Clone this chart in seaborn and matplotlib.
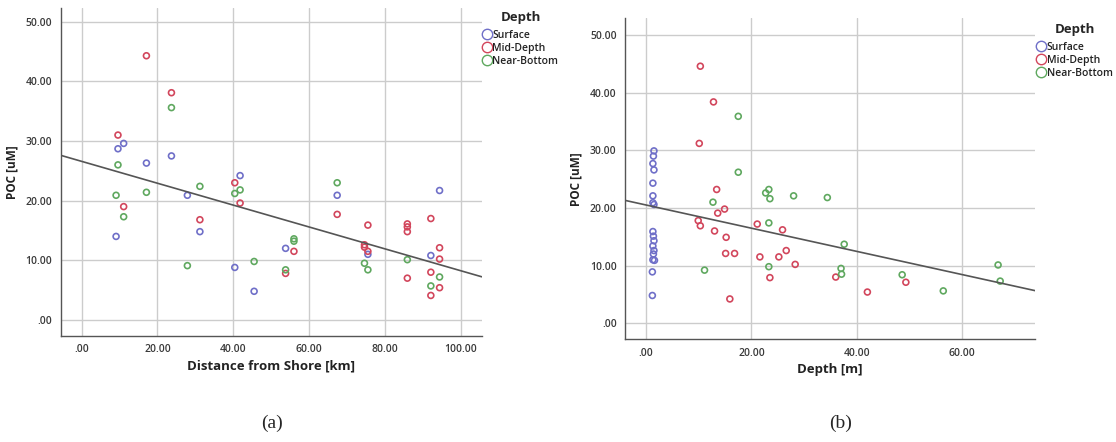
import numpy as np
import pandas as pd
import matplotlib
matplotlib.use("Agg")
import matplotlib.pyplot as plt
import seaborn as sns
from matplotlib.lines import Line2D

# ---- data ----
depth_groups = ["Surface", "Mid-Depth", "Near-Bottom"]
group_colors = ["#6f6fc8", "#d2465c", "#5fa85f"]

# panel (a): distance from shore [km] vs POC [uM]
a_surface_x = [9.6, 11.1, 17.1, 23.7, 41.8, 27.9, 9.1, 31.2, 40.4, 45.5, 53.8, 67.4, 94.4, 75.5, 92.1]
a_surface_y = [28.7, 29.6, 26.3, 27.5, 24.2, 20.9, 14.0, 14.8, 8.8, 4.8, 12.0, 20.9, 21.7, 11.0, 10.8]
a_mid_x = [17.1, 23.7, 9.6, 40.4, 11.1, 31.2, 41.8, 56.0, 53.8, 67.4, 75.5, 74.6, 74.6, 75.5,
           85.9, 85.9, 85.9, 85.9, 92.1, 92.1, 92.1, 94.4, 94.4, 94.4]
a_mid_y = [44.3, 38.1, 31.0, 23.0, 19.0, 16.8, 19.6, 11.5, 7.8, 17.7, 15.9, 12.6, 12.2, 11.5,
           16.1, 15.6, 14.8, 7.0, 17.0, 8.0, 4.1, 12.1, 10.2, 5.4]
a_near_x = [23.7, 9.6, 31.2, 40.4, 41.8, 9.1, 17.1, 11.1, 27.9, 45.5, 56.0, 56.0, 53.8, 67.4,
            74.6, 75.5, 85.9, 92.1, 94.4]
a_near_y = [35.6, 26.0, 22.4, 21.2, 21.8, 20.9, 21.4, 17.3, 9.1, 9.8, 13.6, 13.2, 8.4, 23.0,
            9.5, 8.4, 10.1, 5.7, 7.2]

# panel (b): depth [m] vs POC [uM]
b_surface_x = [1.5, 1.4, 1.3, 1.5, 1.3, 1.3, 1.3, 1.5, 1.3, 1.4, 1.5, 1.3, 1.5, 1.4,
               1.3, 1.6, 1.2, 1.2]
b_surface_y = [29.9, 29.0, 27.7, 26.6, 24.3, 22.1, 20.9, 20.6, 15.9, 15.1, 14.3, 13.4, 12.6, 12.0,
               11.0, 10.9, 8.9, 4.8]
b_mid_x = [10.3, 12.8, 10.1, 13.4, 13.6, 14.9, 9.9, 10.3, 13.0, 15.2, 15.1, 16.8, 15.9, 21.1,
           21.6, 23.5, 25.9, 25.2, 26.6, 28.3, 36.0, 42.0, 49.3]
b_mid_y = [44.6, 38.4, 31.2, 23.2, 19.1, 19.8, 17.8, 16.9, 16.0, 14.9, 12.1, 12.1, 4.2, 17.2,
           11.5, 7.9, 16.2, 11.5, 12.6, 10.2, 8.0, 5.4, 7.1]
b_near_x = [17.5, 17.5, 22.7, 23.3, 23.5, 28.0, 34.4, 12.7, 11.1, 23.3, 23.3, 37.6, 37.0, 37.1,
            48.6, 56.4, 66.8, 67.2]
b_near_y = [35.9, 26.2, 22.6, 23.2, 21.6, 22.1, 21.8, 21.0, 9.2, 17.4, 9.8, 13.7, 9.5, 8.5,
            8.4, 5.6, 10.1, 7.3]


def make_frame(xs, ys):
    rows = []
    for grp, x, y in zip(depth_groups, xs, ys):
        rows += [(grp, a, b) for a, b in zip(x, y)]
    return pd.DataFrame(rows, columns=["Depth", "x", "POC"])


df_a = make_frame([a_surface_x, a_mid_x, a_near_x], [a_surface_y, a_mid_y, a_near_y])
df_b = make_frame([b_surface_x, b_mid_x, b_near_x], [b_surface_y, b_mid_y, b_near_y])

sns.set_style("white")
plt.rcParams["font.family"] = ["Open Sans", "DejaVu Sans"]

fig = plt.figure(figsize=(11.16, 4.42), dpi=100)
ax_a = fig.add_axes([0.0544, 0.2398, 0.3772, 0.742])
ax_b = fig.add_axes([0.560, 0.2324, 0.3674, 0.726])

fmt = lambda v: f"{v:.2f}".lstrip("0") if v < 1 else f"{v:.2f}"


def draw(ax, df, xlim, ylim, xticks, xlabel, leg_anchor):
    ax.set_xlim(*xlim)
    ax.set_ylim(*ylim)
    sns.scatterplot(data=df, x="x", y="POC", hue="Depth", hue_order=depth_groups,
                    palette=group_colors, s=18, linewidth=1.2, legend=False, ax=ax, zorder=3)
    pts = ax.collections[-1]
    pts.set_edgecolors(pts.get_facecolors())
    pts.set_facecolors("none")
    sns.regplot(data=df, x="x", y="POC", scatter=False, ci=None, truncate=False,
                color="#555555", line_kws={"lw": 1.2, "zorder": 4}, ax=ax)
    ax.set_xlim(*xlim)
    ax.set_ylim(*ylim)
    yticks = [0, 10, 20, 30, 40, 50]
    ax.set_xticks(xticks)
    ax.set_xticklabels([fmt(v) for v in xticks])
    ax.set_yticks(yticks)
    ax.set_yticklabels([fmt(v) for v in yticks])
    ax.tick_params(length=0, labelsize=7.5, labelcolor="#3a3a3a", pad=6)
    for lab in ax.get_xticklabels() + ax.get_yticklabels():
        lab.set_fontweight("semibold")
    ax.grid(True, color="#cccccc", lw=1)
    ax.set_axisbelow(True)
    for s in ["top", "right"]:
        ax.spines[s].set_visible(False)
    for s in ["left", "bottom"]:
        ax.spines[s].set_color("#555555")
        ax.spines[s].set_linewidth(1)
    ax.set_xlabel(xlabel, fontsize=9.5, fontweight="bold", color="#222222", labelpad=3)
    ax.set_ylabel("POC [uM]", fontsize=8.5, fontweight="bold", color="#222222", labelpad=5)

    handles = [Line2D([], [], ls="", marker="o", ms=7.5, mfc="none", mec=c, mew=1.0, label=g)
               for g, c in zip(depth_groups, group_colors)]
    leg = ax.legend(handles=handles, title="Depth", loc="upper left", bbox_to_anchor=leg_anchor,
                    frameon=False, fontsize=7.5, handlelength=0.6, handletextpad=0.2,
                    labelspacing=0.2, borderpad=0, borderaxespad=0)
    leg.get_title().set_fontweight("bold")
    leg.get_title().set_fontsize(9.5)
    for t in leg.get_texts():
        t.set_fontweight("semibold")
        t.set_color("#222222")
    leg._legend_box.align = "center"
    leg._legend_box.sep = 4


draw(ax_a, df_a, (-5.5, 105.5), (-2.7, 52.3), [0, 20, 40, 60, 80, 100],
     "Distance from Shore [km]", (1.005, 0.99))
draw(ax_b, df_b, (-4.0, 73.8), (-2.8, 52.9), [0, 20, 40, 60],
     "Depth [m]", (1.008, 0.985))

fig.text(0.2435, 0.043, "(a)", family=["Liberation Serif", "DejaVu Serif"], fontsize=14,
         ha="center", va="center")
fig.text(0.7535, 0.043, "(b)", family=["Liberation Serif", "DejaVu Serif"], fontsize=14,
         ha="center", va="center")

fig.savefig("out.png", dpi=100, facecolor="white")
